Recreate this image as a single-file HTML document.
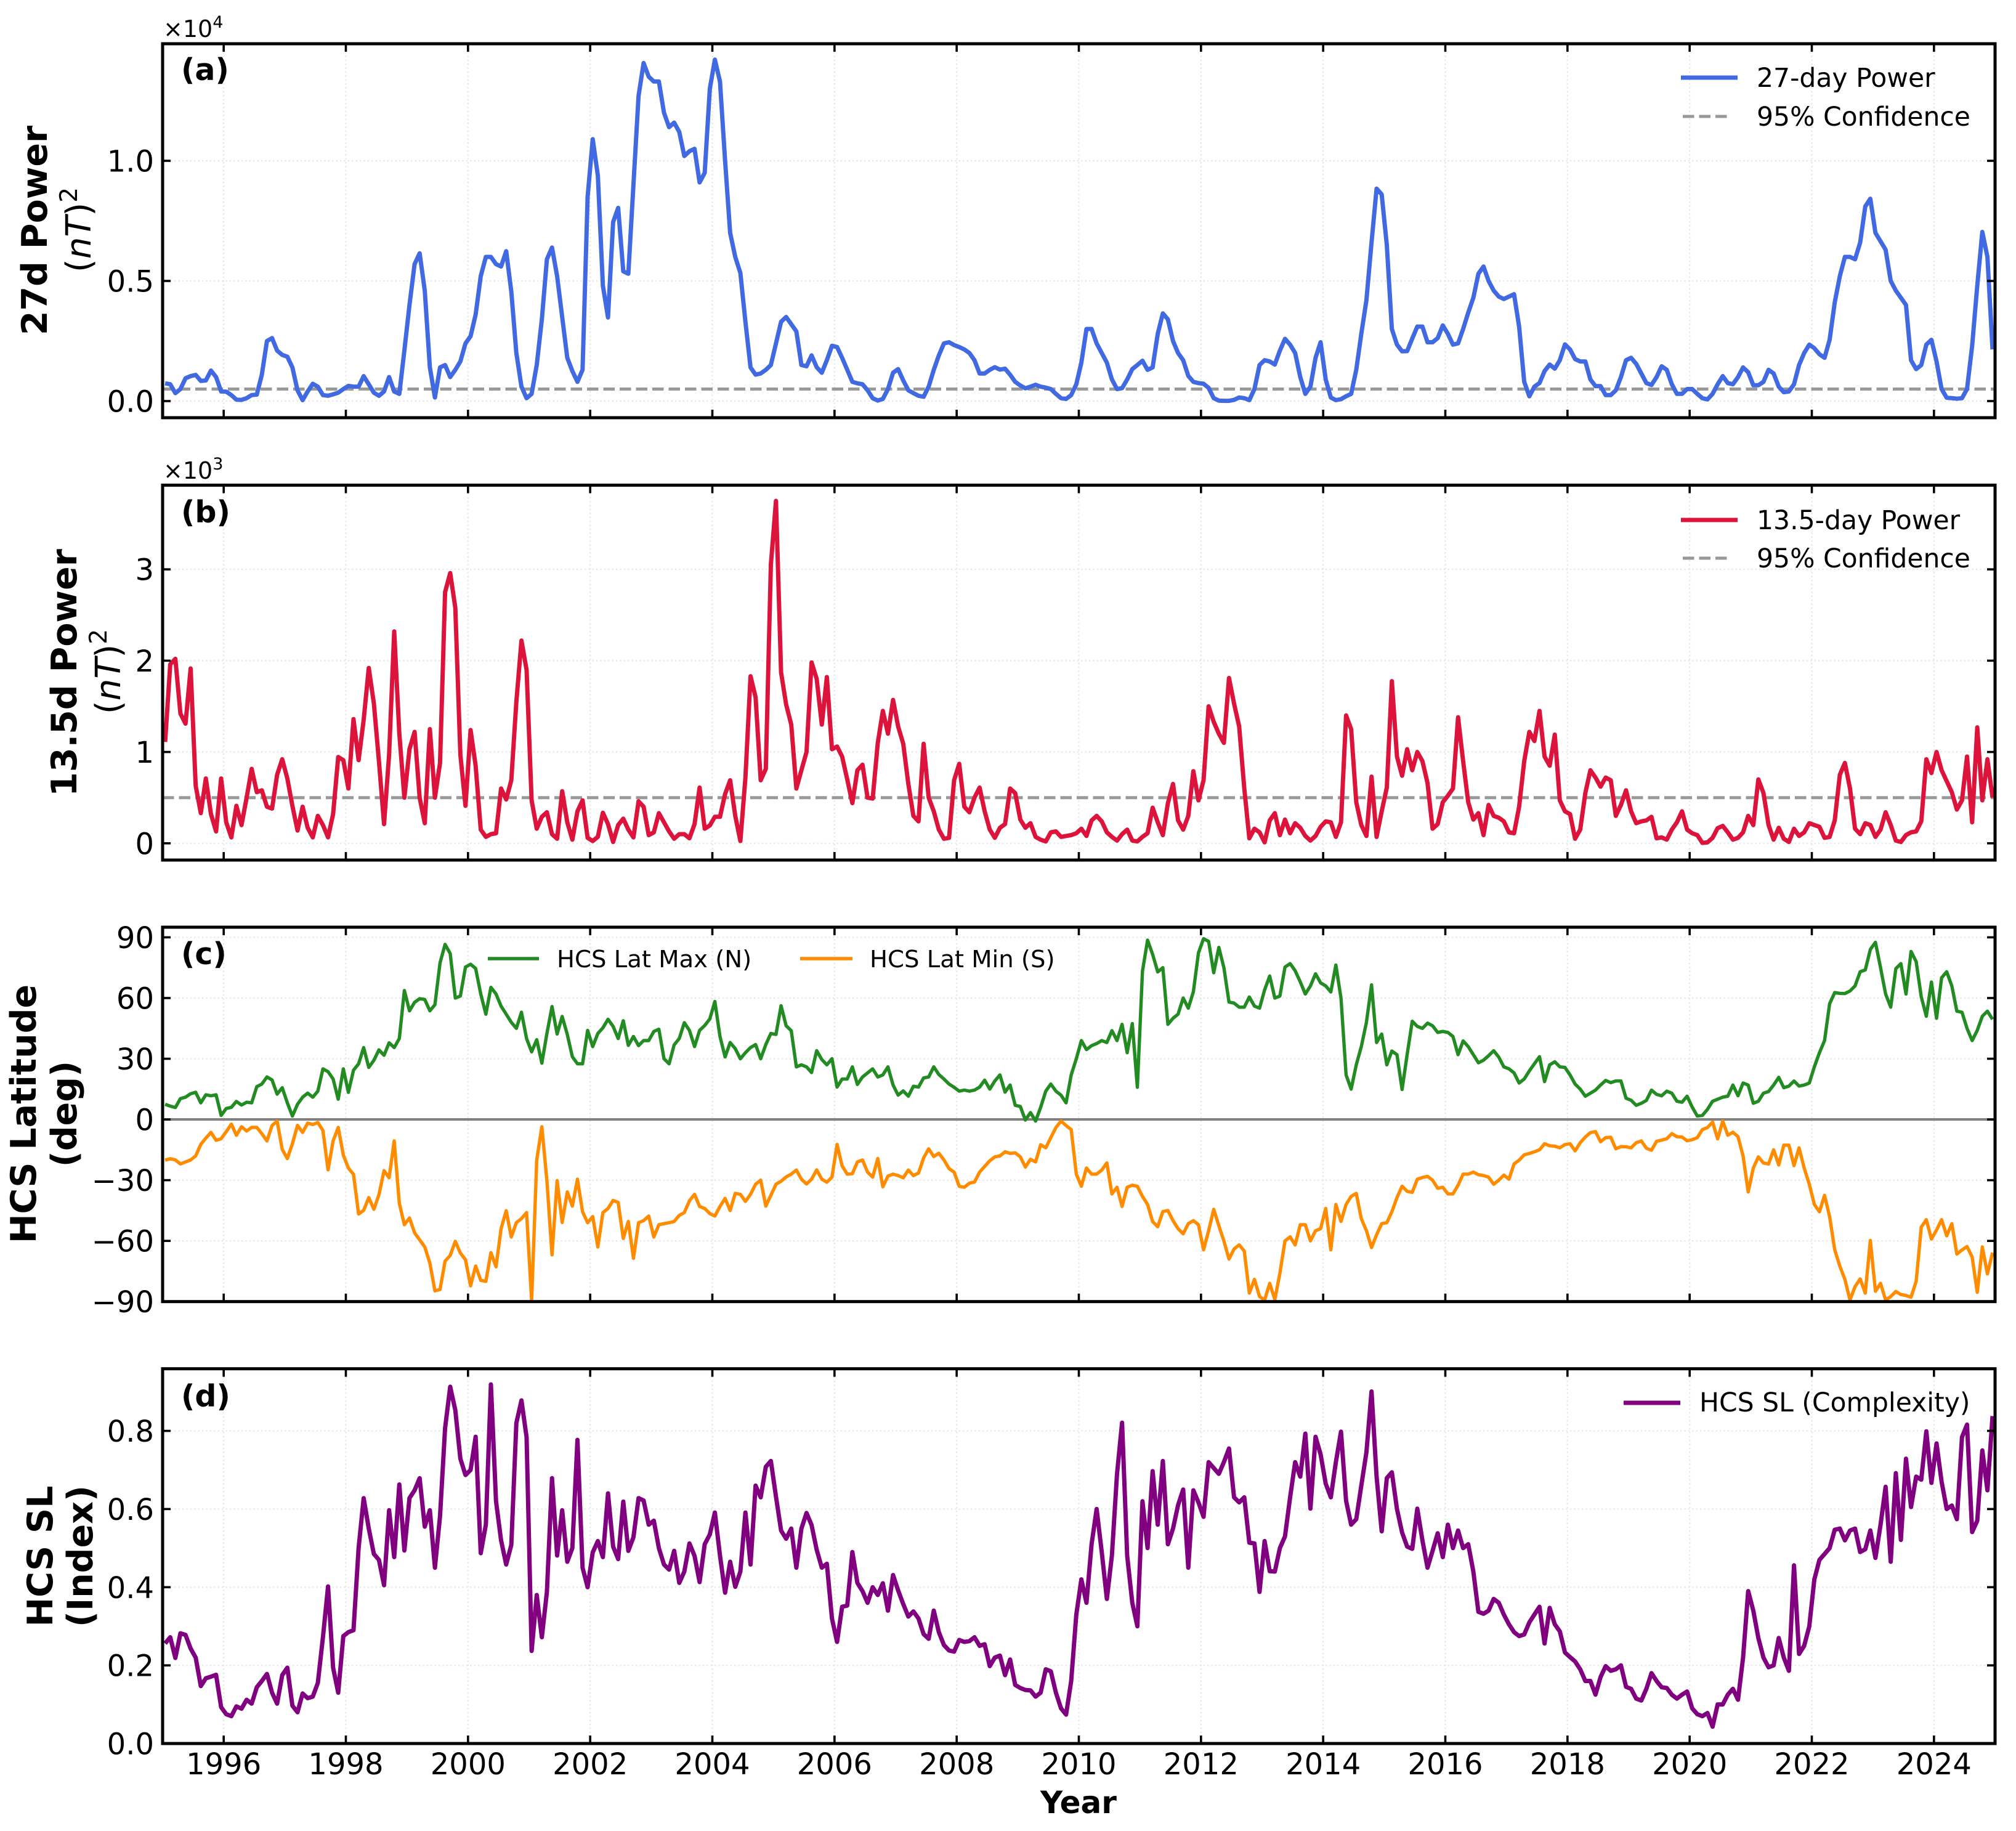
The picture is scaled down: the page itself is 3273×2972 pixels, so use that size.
<!DOCTYPE html>
<html lang="en">
<head>
<meta charset="utf-8">
<title>27-day and 13.5-day power with HCS latitude and complexity, 1995-2025</title>
<style>
html,body{margin:0;padding:0;background:#fff;}
svg{display:block;font-family:"DejaVu Sans","Liberation Sans",sans-serif;}
</style>
</head>
<body>
<svg id="chart" xmlns="http://www.w3.org/2000/svg" width="3273" height="2972" viewBox="0 0 3273 2972">
<rect x="0" y="0" width="3273" height="2972" fill="#fff"/>
<defs>
<clipPath id="clip-a"><rect x="264" y="71" width="2975" height="607"/></clipPath>
<clipPath id="clip-b"><rect x="264" y="787.5" width="2975" height="608.5"/></clipPath>
<clipPath id="clip-c"><rect x="264" y="1505" width="2975" height="607.7"/></clipPath>
<clipPath id="clip-d"><rect x="264" y="2221.7" width="2975" height="608.3"/></clipPath>
</defs>
<g id="plot-layer"></g>

<text x="294" y="130" font-size="49" font-weight="bold">(a)</text>
<text x="294" y="848" font-size="49" font-weight="bold">(b)</text>
<text x="294" y="1565" font-size="49" font-weight="bold">(c)</text>
<text x="294" y="2283" font-size="49" font-weight="bold">(d)</text>

<text x="265" y="60" font-size="38">×10<tspan dy="-15" font-size="27">4</tspan></text>
<text x="265" y="777" font-size="38">×10<tspan dy="-15" font-size="27">3</tspan></text>

<text transform="translate(76,374) rotate(-90)" text-anchor="middle" font-size="57" font-weight="bold">27d Power</text>
<text transform="translate(147,373) rotate(-90)" text-anchor="middle" font-size="56">(<tspan font-style="italic">nT</tspan>)<tspan dy="-22" font-size="39">2</tspan></text>
<text transform="translate(124,1092) rotate(-90)" text-anchor="middle" font-size="57" font-weight="bold">13.5d Power</text>
<text transform="translate(195,1090) rotate(-90)" text-anchor="middle" font-size="56">(<tspan font-style="italic">nT</tspan>)<tspan dy="-22" font-size="39">2</tspan></text>
<text transform="translate(58,1808) rotate(-90)" text-anchor="middle" font-size="57" font-weight="bold">HCS Latitude</text>
<text transform="translate(124,1808) rotate(-90)" text-anchor="middle" font-size="57" font-weight="bold">(deg)</text>
<text transform="translate(85,2526) rotate(-90)" text-anchor="middle" font-size="57" font-weight="bold">HCS SL</text>
<text transform="translate(150,2526) rotate(-90)" text-anchor="middle" font-size="57" font-weight="bold">(Index)</text>
<text x="1751" y="2943" text-anchor="middle" font-size="50" font-weight="bold">Year</text>

<g>
<line x1="2729" x2="2821" y1="126" y2="126" stroke="#4169e1" stroke-width="7"/>
<text x="2852" y="141" font-size="42.5">27-day Power</text>
<line x1="2732" x2="2810" y1="189" y2="189" stroke="#999" stroke-width="5" stroke-dasharray="18.5 8"/>
<text x="2852" y="204" font-size="42.5">95% Confidence</text>
</g>
<g>
<line x1="2729" x2="2821" y1="844" y2="844" stroke="#dc143c" stroke-width="7"/>
<text x="2852" y="859" font-size="42.5">13.5-day Power</text>
<line x1="2732" x2="2810" y1="906" y2="906" stroke="#999" stroke-width="5" stroke-dasharray="18.5 8"/>
<text x="2852" y="921" font-size="42.5">95% Confidence</text>
</g>
<g>
<line x1="792" x2="875" y1="1556" y2="1556" stroke="#228b22" stroke-width="5.4"/>
<text x="904" y="1570" font-size="38.6">HCS Lat Max (N)</text>
<line x1="1299" x2="1384" y1="1556" y2="1556" stroke="#ff8c00" stroke-width="5.4"/>
<text x="1412" y="1570" font-size="38.6">HCS Lat Min (S)</text>
</g>
<g>
<line x1="2636" x2="2728" y1="2277" y2="2277" stroke="#800080" stroke-width="7"/>
<text x="2759" y="2291" font-size="42.5">HCS SL (Complexity)</text>
</g>
</svg>
<script>
const startYear = 1995;
const yearTicks = [1996,1998,2000,2002,2004,2006,2008,2010,2012,2014,2016,2018,2020,2022,2024];

const ticksA = [0,5000,10000];
const tickLabelsA = ["0.0","0.5","1.0"];
const ticksB = [0,1000,2000,3000];
const tickLabelsB = ["0","1","2","3"];
const ticksC = [-90,-60,-30,0,30,60,90];
const tickLabelsC = ["\u221290","\u221260","\u221230","0","30","60","90"];
const ticksD = [0,0.2,0.4,0.6,0.8];
const tickLabelsD = ["0.0","0.2","0.4","0.6","0.8"];

const confidenceA = 500;
const confidenceB = 500;
const zeroLatitude = 0;

/* monthly 27-day power, nT^2, Jan 1995 - Dec 2024 */
const power27 = [
740,700,330,500,950,1040,1090,840,860,1270,1000,400,
390,250,60,50,120,250,270,1100,2500,2620,2100,1920,
1850,1400,450,40,400,720,600,250,220,280,350,500,
630,600,600,1040,700,350,220,400,1000,400,300,2100,
4000,5700,6150,4600,1400,150,1400,1500,1000,1300,1650,2400,
2700,3600,5200,6000,6000,5700,5600,6240,4560,2000,600,120,
300,1500,3400,5900,6390,5200,3500,1800,1250,800,1300,8500,
10900,9390,4800,3480,7450,8040,5400,5300,9000,12700,14070,13500,
13300,13300,12000,11400,11590,11200,10200,10400,10500,9100,9500,13000,
14210,13300,10000,7000,6000,5330,3300,1400,1100,1150,1300,1500,
2400,3300,3500,3200,2900,1500,1450,1900,1410,1180,1700,2300,
2250,1800,1300,800,740,700,450,120,20,90,500,1180,
1330,860,450,330,220,180,600,1300,1900,2400,2450,2330,
2250,2150,2000,1700,1150,1150,1300,1410,1310,1350,1100,800,
650,530,600,680,600,560,500,300,120,90,250,700,
1600,3000,3000,2400,2000,1600,900,500,540,900,1330,1500,
1680,1300,1400,2800,3650,3400,2500,2000,1700,1050,800,750,
720,550,120,20,10,10,50,150,120,40,500,1500,
1700,1650,1520,2100,2590,2350,2000,1000,300,600,1800,2450,
900,150,40,80,200,300,1300,2800,4200,6600,8840,8600,
6500,3000,2350,2070,2080,2600,3100,3100,2450,2450,2620,3150,
2800,2350,2400,3000,3680,4300,5300,5600,5000,4600,4350,4250,
4350,4450,3100,800,200,600,750,1250,1520,1350,1700,2360,
2150,1750,1650,1650,900,620,620,250,250,450,1000,1700,
1800,1550,1150,750,670,1000,1450,1300,700,300,300,500,
500,300,120,70,300,700,1040,750,700,1000,1400,1200,
660,660,800,1300,1150,600,370,400,700,1500,2000,2350,
2200,1950,1800,2550,4100,5200,6000,6000,5900,6600,8100,8420,
7000,6650,6300,5000,4600,4300,4000,1700,1330,1500,2350,2550,
1650,500,140,120,100,120,500,2300,4800,7040,6000,2150
];

/* monthly 13.5-day power, nT^2 */
const power135 = [
1110,1960,2020,1420,1310,1915,630,330,710,320,130,710,
230,65,410,200,500,815,560,580,400,380,750,920,
710,410,140,400,170,65,300,200,65,320,945,910,
600,1360,910,1350,1920,1530,900,210,970,2320,1200,500,
1030,1220,500,220,1250,500,880,2750,2960,2580,970,410,
1240,850,150,70,100,110,600,480,690,1550,2220,1900,
470,160,290,340,100,50,570,230,40,350,470,60,
25,70,335,210,15,200,270,150,65,460,400,90,
120,330,230,130,50,100,100,55,210,610,160,195,
290,290,540,690,300,25,720,1830,1600,690,815,3050,
3750,1870,1520,1300,600,800,1000,1980,1800,1300,1820,1030,
1060,950,700,440,800,860,500,490,1100,1450,1200,1570,
1280,1090,650,300,240,1090,500,350,150,50,60,690,
870,400,340,500,610,350,150,60,170,210,600,550,
260,170,220,70,40,20,120,130,70,80,90,110,
160,80,250,300,240,120,70,30,100,150,30,20,
70,110,390,230,90,440,650,250,150,300,790,470,
690,1500,1330,1200,1100,1810,1530,1280,600,55,160,120,
10,250,330,90,260,110,220,170,80,30,80,180,
240,230,70,230,1400,1250,450,200,80,730,70,350,
610,1776,950,740,1030,800,1000,900,660,160,210,450,
520,600,1380,900,450,260,330,90,420,300,280,240,
120,110,400,900,1220,1120,1450,950,850,1190,470,350,
320,50,150,550,800,720,620,720,690,300,420,580,
350,220,240,250,290,55,65,40,150,230,350,150,
110,90,5,10,60,165,190,120,40,60,120,300,
200,700,550,200,40,170,50,15,160,80,120,220,
200,180,60,70,250,750,880,600,160,100,220,200,
70,150,340,200,30,15,90,120,130,240,920,770,
1000,800,680,560,370,470,950,230,1270,470,920,500
];

/* monthly HCS maximum latitude (north), degrees */
const latMax = [
7.5,6.6,5.9,10.3,11,12.7,13.4,8.2,12.2,11.7,12.2,2,
5.4,6,8.9,7.1,8.5,8.2,16.2,17.5,21,19.5,12.5,15.7,
8.2,1.7,7.5,11,13,11,14,25,23.6,20,10,25,
13.4,24.3,27.5,35.5,25.7,29.2,34.4,31.7,37.9,35.5,40,63.7,
53.7,57.9,59.7,59.3,53.7,56.7,77.4,86.5,82,60,61,75.3,
76.7,74.6,62,52,65.3,62,56,52,48,45,53,40,
33.4,39.4,27.8,42.5,55.8,42.2,50.9,42,31,27.5,27.5,44,
36,42.5,45.3,49.5,46,40,48.8,36.6,41,36.5,39,39,
43.5,44.6,30,27.5,36.9,40,47.8,44,36,44,46.4,49.7,
58.3,41,30.9,38,35,30,33,35.5,37,30,37,42.5,
42,56.2,46.3,43.9,26,27,26,23.2,34,29.6,27,30,
16,20,20,26,17.3,21,23,25,21,22,26,17,
12,14.1,11.5,16.4,16,20.5,21,26,22.2,20,17.5,15.9,
14,14.5,14,14.5,16,19.4,15,19,22,13.5,17,7,
6.4,-0.3,3.4,-0.8,6,14,17.5,14,12,8.2,22,30,
39,34.5,36.5,37.5,39,38,43.9,39,47,33,47.4,15.9,
73.2,88.6,81.6,72.9,75,47,50,52,60,55,63,82.3,
89.3,88,72.5,85,75,58,57.5,55.5,55.5,60.5,56,55,
64,70.9,60,61,75.3,77,73.5,68,62,66,72,67.5,
66,63,76.3,60,22,15,27,36,48,66.5,38,42.2,
27,33.8,32,14.8,32,48.5,46,45,47.6,46.3,43,43.5,
43,41,32,38.8,36,32,28,29.3,31.5,34,30.8,26,
25,23,18,20,24,27.5,31,18.7,27,28.5,26,25.7,
22,17.5,15,11.5,13,14.5,17,19.3,18.2,19,19,10.5,
9.5,7,8,9.4,14.5,12.4,11.7,14,13,9,8.5,11.5,
6.1,1.7,2,5,9,10,11,11.5,17,11.7,18,17,
8,9,13,13.8,17,20.8,15.7,16.5,19,16.5,17,18,
26,33,39,57.2,62.7,62.3,62.2,63.5,66,73,73.9,84,
87.5,75,62,55.5,74.5,77,62,83,78,60.6,51,67.9,
50,70,73,66,53.5,53,45,39,44,51,53.5,49.5
];

/* monthly HCS minimum latitude (south), degrees */
const latMin = [
-20.1,-19.4,-20,-22,-21,-20,-18,-12.3,-9.2,-6.4,-10.3,-9.5,
-6,-2.3,-7.8,-3.6,-5.7,-3.9,-3.9,-7,-10.6,-3,-0.8,-14.8,
-19.3,-12,-2.9,-6.4,-1.8,-2.5,-1.5,-5.5,-24.9,-10.6,-3.9,-17.6,
-24,-27.1,-46.7,-44.9,-38.6,-44.4,-37.2,-25.3,-28.8,-10.6,-41.4,-52,
-48.7,-56,-59.5,-63,-71,-84.7,-84,-70,-67.2,-60.2,-66,-69.3,
-82.2,-72.4,-79.5,-80,-65.8,-72.8,-54,-45.1,-58.1,-51,-49,-46,
-89.6,-20,-3.6,-30.2,-66.9,-30.2,-50.9,-35.8,-42.8,-29.5,-45.6,-51,
-48,-63,-46,-44,-40,-41,-58.8,-50.4,-68.6,-51,-50,-47.7,
-58.1,-52,-51.5,-51,-50.4,-47.4,-46,-40.2,-37,-43,-44,-46.5,
-47.7,-43,-39,-45,-36.5,-37,-40.5,-37,-32,-30,-42.8,-37.5,
-32,-30.5,-28.4,-27,-25,-29.5,-31.9,-29.5,-24.9,-29.5,-31,-28.5,
-12.3,-23,-27,-26.8,-21,-20,-26,-28.5,-19.3,-33.3,-28,-27,
-27.7,-28.8,-25,-27.7,-26.5,-19,-14.5,-18.3,-16.7,-20,-24.3,-26,
-33,-33.5,-31.5,-30.9,-26,-23.2,-20.4,-18.5,-18,-16,-16.8,-16.5,
-18.5,-23.5,-19.7,-21,-12.5,-14,-9,-4,-0.8,-3,-5,-27,
-33,-24,-27,-27,-25,-21.5,-36.8,-33.5,-43,-33.5,-32.5,-33,
-38,-42,-50.5,-53,-45.5,-45,-50,-54,-56.5,-51.5,-50,-52,
-64.4,-55,-44.4,-52.5,-60,-69,-64,-62,-65,-85.8,-79,-87.5,
-89.2,-81,-89,-76,-60,-58,-62,-52,-52,-60,-55,-54,
-44,-64.4,-42,-50.4,-42,-38,-36.5,-49,-55,-63.3,-57,-51.5,
-51,-45.6,-38.6,-33,-35.5,-36,-29.5,-28.7,-28.1,-30,-34,-33.5,
-36.8,-36.8,-32.5,-27,-27,-26,-27.3,-27.7,-28.5,-32,-30,-27.5,
-29.5,-22,-20.1,-17.5,-16.8,-16,-15,-12,-13,-13.2,-14,-12.4,
-12,-15.5,-11.5,-8.7,-6.5,-6,-11,-9,-8.8,-14.5,-13.4,-13.5,
-14,-11.5,-10.6,-14.2,-15.2,-10.8,-10.2,-9.5,-7,-8.5,-8.7,-10.5,
-10,-9,-5,-4,-1.3,-9.6,-0.8,-7.8,-6.3,-8.5,-18,-35.8,
-24,-18.5,-21.5,-22,-15,-22.5,-12.7,-12.7,-22.8,-14,-24,-32,
-42,-45.6,-37.5,-48,-64.4,-72.5,-79,-89.2,-82.6,-78.8,-85.8,-59.8,
-84.9,-81,-89.2,-87.5,-85,-86.5,-87,-87.8,-80,-53.2,-49.5,-59.1,
-54.6,-49.5,-57.5,-51.5,-66.5,-64.5,-62.8,-68,-85.4,-63,-76.3,-65.8
];

/* monthly HCS SL complexity index */
const hcsSL = [
.256,.272,.219,.282,.278,.243,.22,.147,.167,.171,.176,.093,
.075,.07,.095,.089,.112,.102,.144,.16,.178,.13,.102,.175,
.194,.097,.08,.128,.116,.12,.155,.272,.402,.194,.13,.275,
.285,.29,.5,.628,.55,.485,.47,.405,.597,.477,.663,.494,
.628,.648,.679,.555,.597,.45,.582,.807,.913,.853,.729,.687,
.7,.785,.487,.56,.919,.62,.52,.458,.508,.82,.878,.784,
.237,.38,.272,.388,.679,.481,.597,.465,.5,.777,.45,.4,
.489,.518,.477,.64,.504,.472,.619,.493,.528,.628,.622,.56,
.57,.5,.458,.445,.493,.411,.44,.512,.48,.413,.51,.535,
.591,.481,.386,.465,.401,.44,.591,.458,.66,.63,.708,.723,
.632,.545,.524,.55,.45,.55,.59,.559,.496,.45,.46,.32,
.26,.35,.353,.49,.411,.39,.36,.4,.38,.41,.34,.431,
.392,.357,.325,.338,.32,.28,.268,.34,.285,.252,.238,.235,
.265,.26,.262,.272,.25,.254,.198,.22,.225,.175,.215,.15,
.142,.137,.136,.12,.13,.19,.185,.13,.09,.074,.16,.33,
.42,.36,.51,.6,.49,.37,.481,.69,.821,.48,.36,.3,
.62,.5,.697,.56,.723,.51,.55,.61,.65,.45,.648,.617,
.58,.72,.705,.69,.72,.755,.63,.617,.63,.514,.512,.388,
.518,.441,.44,.5,.53,.63,.72,.683,.793,.601,.785,.74,
.665,.63,.72,.798,.621,.56,.574,.66,.745,.901,.683,.543,
.679,.694,.6,.54,.504,.498,.601,.52,.45,.493,.538,.477,
.56,.5,.545,.5,.51,.44,.337,.332,.34,.37,.36,.33,
.305,.285,.275,.279,.31,.33,.35,.256,.347,.305,.287,.233,
.221,.21,.19,.16,.16,.125,.17,.198,.186,.19,.2,.145,
.14,.115,.11,.14,.18,.16,.144,.142,.125,.115,.125,.133,
.09,.075,.07,.078,.043,.1,.1,.125,.14,.112,.22,.39,
.34,.27,.22,.195,.2,.27,.22,.186,.456,.229,.25,.3,
.42,.47,.485,.5,.547,.55,.52,.545,.55,.49,.497,.545,
.475,.56,.657,.465,.692,.521,.729,.605,.683,.675,.799,.667,
.768,.67,.6,.609,.574,.784,.816,.541,.57,.75,.648,.838
];

const NS = "http://www.w3.org/2000/svg";
const layer = document.getElementById("plot-layer");
const plotLeft = 264, plotRight = 3239, xMin = 1995, xMax = 2025;

function xScale(year) {
  return plotLeft + (year - xMin) / (xMax - xMin) * (plotRight - plotLeft);
}
function yScaleFor(panel) {
  return function (v) {
    return panel.bottom - (v - panel.min) / (panel.max - panel.min) * (panel.bottom - panel.top);
  };
}
function monthYear(i) {
  return startYear + (i + 0.5) / 12;
}
function make(tag, attrs, parent) {
  const n = document.createElementNS(NS, tag);
  for (const k in attrs) n.setAttribute(k, attrs[k]);
  parent.appendChild(n);
  return n;
}
function seriesPath(values, y) {
  return values.map(function (v, i) {
    return (i ? "L" : "M") + xScale(monthYear(i)).toFixed(1) + " " + y(v).toFixed(1);
  }).join("");
}

const panels = [
  {id:"a", top:71, bottom:678, min:-692, max:14872, ticks:ticksA, labels:tickLabelsA, xLabels:false,
   series:[{values:power27, color:"#4169e1", width:7, name:"power-27-day-line"}],
   refs:[{value:confidenceA, color:"#999", width:5, dash:"18.5 8", name:"confidence-line-a"}]},
  {id:"b", top:787.5, bottom:1396, min:-183.5, max:3922, ticks:ticksB, labels:tickLabelsB, xLabels:false,
   series:[{values:power135, color:"#dc143c", width:7, name:"power-13-5-day-line"}],
   refs:[{value:confidenceB, color:"#999", width:5, dash:"18.5 8", name:"confidence-line-b"}]},
  {id:"c", top:1505, bottom:2112.7, min:-90, max:95, ticks:ticksC, labels:tickLabelsC, xLabels:false,
   series:[{values:latMax, color:"#228b22", width:5.4, name:"hcs-lat-max-line"},
           {values:latMin, color:"#ff8c00", width:5.4, name:"hcs-lat-min-line"}],
   refs:[{value:zeroLatitude, color:"#808080", width:4, dash:"none", name:"zero-latitude-line"}]},
  {id:"d", top:2221.7, bottom:2830, min:0, max:0.959, ticks:ticksD, labels:tickLabelsD, xLabels:true,
   series:[{values:hcsSL, color:"#800080", width:7, name:"hcs-sl-line"}],
   refs:[]}
];

panels.forEach(function (p) {
  const y = yScaleFor(p);
  const g = make("g", {}, layer);
  
  

  yearTicks.forEach(function (yr) {
    const gx = make("line", {x1:xScale(yr), x2:xScale(yr), y1:p.top, y2:p.bottom, stroke:"#e8e8e8", "stroke-width":2.4, "stroke-dasharray":"2.4 4"}, g);
    
    
  });
  p.ticks.forEach(function (t) {
    const gy = make("line", {x1:plotLeft, x2:plotRight, y1:y(t), y2:y(t), stroke:"#e8e8e8", "stroke-width":2.4, "stroke-dasharray":"2.4 4"}, g);
    
    
  });

  p.refs.forEach(function (r) {
    const ref = make("line", {x1:plotLeft, x2:plotRight, y1:y(r.value), y2:y(r.value), stroke:r.color, "stroke-width":r.width, "stroke-dasharray":r.dash}, g);
    
    
  });

  p.series.forEach(function (s) {
    const line = make("path", {d:seriesPath(s.values, y), fill:"none", stroke:s.color, "stroke-width":s.width, "stroke-linejoin":"round", "clip-path":"url(#clip-" + p.id + ")"}, g);
    
    
  });

  yearTicks.forEach(function (yr) {
    const tb = make("line", {x1:xScale(yr), x2:xScale(yr), y1:p.bottom, y2:p.bottom - 13, stroke:"#000", "stroke-width":3.6}, g);
    
    
    const tt = make("line", {x1:xScale(yr), x2:xScale(yr), y1:p.top, y2:p.top + 13, stroke:"#000", "stroke-width":3.6}, g);
    
    
    if (p.xLabels) {
      const lab = make("text", {x:xScale(yr), y:2880, "text-anchor":"middle", "font-size":48}, g);
      lab.textContent = String(yr);
      
      
    }
  });

  p.ticks.forEach(function (t, i) {
    const tl = make("line", {x1:plotLeft, x2:plotLeft + 13, y1:y(t), y2:y(t), stroke:"#000", "stroke-width":3.6}, g);
    
    
    const tr = make("line", {x1:plotRight, x2:plotRight - 13, y1:y(t), y2:y(t), stroke:"#000", "stroke-width":3.6}, g);
    
    
    const lab = make("text", {x:250, y:y(t) + 17.5, "text-anchor":"end", "font-size":48}, g);
    lab.textContent = p.labels[i];
    
    
  });

  const frame = make("rect", {x:plotLeft, y:p.top, width:plotRight - plotLeft, height:p.bottom - p.top, fill:"none", stroke:"#000", "stroke-width":5}, g);
  
  
});
</script>
</body>
</html>
